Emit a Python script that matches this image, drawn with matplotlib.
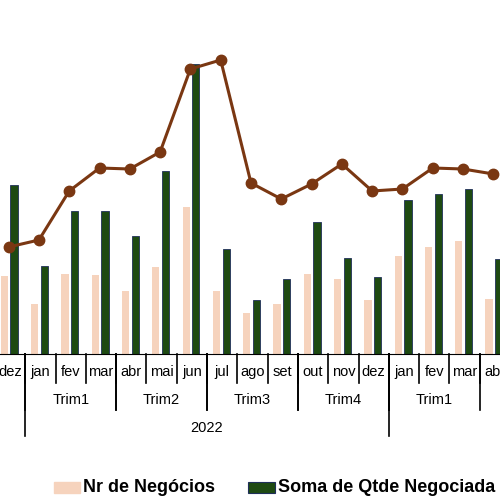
import matplotlib
matplotlib.use("Agg")
import matplotlib.pyplot as plt
import matplotlib.transforms as mtrans
from matplotlib.patches import Rectangle

months = ["dez","jan","fev","mar","abr","mai","jun","jul","ago","set","out","nov","dez","jan","fev","mar","abr"]
quarters = [("Trim1", 1, 3), ("Trim2", 4, 6), ("Trim3", 7, 9), ("Trim4", 10, 12), ("Trim1", 13, 15)]
years = [("2022", 1, 12)]
nr_negocios = [78, 50, 80, 79, 63, 87, 147, 63, 41, 50, 80, 75, 54, 98, 107, 113, 55]
soma_qtde = [169, 88, 143, 143, 118, 183, 290, 105, 54, 75, 132, 96, 77, 154, 160, 165, 95]
linha = [107, 114, 163, 186, 185, 202, 285, 294, 171, 155, 170, 190, 163, 165, 186, 185, 180]

plt.rcParams['font.family'] = ['Liberation Sans', 'DejaVu Sans']
fig = plt.figure(figsize=(5, 5), dpi=100)
ax = fig.add_axes([-5/500, 146/500, 515/500, 300/500])
n = len(months)
x = list(range(n))
peach = "#f6d3bd"; green = "#1e4a12"; brown = "#7a3712"
ax.bar([i - 0.19 for i in x], nr_negocios, width=0.24, color=peach)
ax.bar([i + 0.13 for i in x], soma_qtde, width=0.24, color=green, edgecolor="#1f2f5a", linewidth=0.6)
ax.plot([i - 0.05 for i in x], linha, color=brown, lw=2.2, marker="o", ms=7.5, zorder=5, clip_on=False)
ax.set_xlim(-0.5, n - 0.5)
ax.set_ylim(0, 300)
for s in ["top", "right", "left"]:
    ax.spines[s].set_visible(False)
ax.spines["bottom"].set_color("black")
ax.set_yticks([]); ax.set_xticks([])
tr = mtrans.blended_transform_factory(ax.transData, ax.transAxes)
ppx = 1 / 300
def vline(xv, depth):
    ax.plot([xv, xv], [0, -depth * ppx], color="black", lw=1.2, transform=tr, clip_on=False)
for i in range(n):
    ax.text(i, -18 * ppx, months[i], ha="center", va="center", fontsize=10.5, transform=tr)
    vline(i + 0.5, 29)
for name, a, b in quarters:
    ax.text((a + b) / 2, -46 * ppx, name, ha="center", va="center", fontsize=10.5, transform=tr)
    vline(a - 0.5, 56); vline(b + 0.5, 56)
for name, a, b in years:
    ax.text((a + b) / 2, -74 * ppx, name, ha="center", va="center", fontsize=10.5, transform=tr)
    vline(a - 0.5, 82); vline(b + 0.5, 82)

fig.patches.append(Rectangle((54/500, 7/500), 26/500, 11/500, transform=fig.transFigure, color=peach))
fig.text(83/500, 12.5/500, "Nr de Negócios", fontsize=13, fontweight="bold", va="center")
fig.patches.append(Rectangle((248/500, 7/500), 27/500, 11/500, transform=fig.transFigure, facecolor=green, edgecolor="#1f2f5a", lw=0.8))
fig.text(278/500, 12.5/500, "Soma de Qtde Negociada", fontsize=13, fontweight="bold", va="center")
fig.savefig("out.png", dpi=100)
